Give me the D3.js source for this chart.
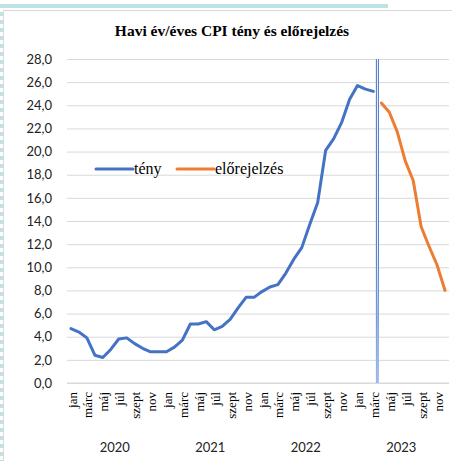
<!DOCTYPE html>
<html>
<head>
<meta charset="utf-8">
<script src="https://cdn.jsdelivr.net/npm/d3@7"></script>
<style>
  body { margin: 0; background: #fff; }
  svg { display: block; }
</style>
</head>
<body>
<svg></svg>
<script>
// Chart dimensions and margins.
const width = 452;
const height = 461;
const marginTop = 59;
const marginRight = 3;
const marginBottom = 78;
const marginLeft = 67;

// Data: Hungarian monthly y/y CPI, actual and forecast.
const years = [2020, 2021, 2022, 2023];
const monthNames = ["jan", "febr", "márc", "ápr", "máj", "jún", "júl", "aug", "szept", "okt", "nov", "dec"];
const actual = [
  4.7, 4.4, 3.9, 2.4, 2.2, 2.9, 3.8, 3.9, 3.4, 3.0, 2.7, 2.7,
  2.7, 3.1, 3.7, 5.1, 5.1, 5.3, 4.6, 4.9, 5.5, 6.5, 7.4, 7.4,
  7.9, 8.3, 8.5, 9.5, 10.7, 11.7, 13.7, 15.6, 20.1, 21.1, 22.5, 24.5,
  25.7, 25.4, 25.2
];
const forecast = [24.2, 23.4, 21.7, 19.2, 17.5, 13.5, 11.8, 10.2, 8.0];
const yTicks = [0, 2, 4, 6, 8, 10, 12, 14, 16, 18, 20, 22, 24, 26, 28];
const dividerMonth = "2023-03";

// Build category keys and series points.
const months = years.flatMap(y => monthNames.map((m, i) => ({key: `${y}-${String(i + 1).padStart(2, "0")}`, year: y, idx: i, name: m})));
const actualPts = actual.map((v, i) => ({key: months[i].key, v}));
const forecastPts = forecast.map((v, i) => ({key: months[actual.length + i].key, v}));

const svg = d3.select("svg")
    .attr("width", width)
    .attr("height", height)
    .attr("viewBox", [0, 0, width, height]);

// Decorative frame (light blue dashed border + gray chart frame).
svg.append("rect").attr("x", 0).attr("y", 4).attr("width", 388).attr("height", 4).attr("fill", "#bfe2e3");
svg.append("line").attr("x1", 3).attr("x2", width).attr("y1", 10.5).attr("y2", 10.5)
    .attr("stroke", "#d9d9d9").attr("stroke-width", 1);
svg.append("line").attr("x1", 0).attr("x2", 0).attr("y1", 12).attr("y2", height)
    .attr("stroke", "#bfe2e3").attr("stroke-width", 6).attr("stroke-dasharray", "4 4");
svg.append("line").attr("x1", 3.5).attr("x2", 3.5).attr("y1", 10).attr("y2", height)
    .attr("stroke", "#d9d9d9").attr("stroke-width", 1);

// Scales.
const x = d3.scaleBand(months.map(d => d.key), [marginLeft, width - marginRight]);
const cx = k => x(k) + x.bandwidth() / 2;
const y = d3.scaleLinear([0, 28], [height - marginBottom, marginTop]);

// Title.
svg.append("text")
    .attr("x", 232).attr("y", 36)
    .attr("text-anchor", "middle")
    .attr("font-family", "'Liberation Serif', 'Times New Roman', serif")
    .attr("font-weight", "bold")
    .attr("font-size", 15.5)
    .attr("fill", "#000")
    .text("Havi év/éves CPI tény és előrejelzés");

// Y axis with grid lines.
svg.append("g")
    .attr("transform", `translate(${marginLeft},0)`)
    .call(d3.axisLeft(y).tickValues(yTicks).tickSize(0).tickPadding(15)
        .tickFormat(d => d.toFixed(1).replace(".", ",")))
    .call(g => g.select(".domain").remove())
    .call(g => g.selectAll(".tick text")
        .attr("font-family", "Lato, 'Open Sans', sans-serif")
        .attr("font-size", 13)
        .attr("fill", "#222"))
    .call(g => g.selectAll(".tick line").clone()
        .attr("x2", width - marginLeft - marginRight)
        .attr("stroke", "#d9d9d9"));

// X axis: month labels (every other) and year group labels.
const xAxis = svg.append("g").attr("transform", `translate(0,${y(0)})`);
xAxis.append("line")
    .attr("x1", marginLeft).attr("x2", width - marginRight)
    .attr("stroke", "#d9d9d9");
xAxis.selectAll("text.month")
    .data(months.filter(d => d.idx % 2 === 0))
    .join("text")
    .attr("class", "month")
    .attr("transform", d => `translate(${cx(d.key) + 1},9) rotate(-90)`)
    .attr("text-anchor", "end")
    .attr("dy", "0.35em")
    .attr("font-family", "'Liberation Serif', 'Times New Roman', serif")
    .attr("font-size", 13)
    .attr("fill", "#000")
    .text(d => d.name);
xAxis.selectAll("text.year")
    .data(years)
    .join("text")
    .attr("class", "year")
    .attr("x", yr => (x(`${yr}-01`) + x(`${yr}-12`) + x.bandwidth()) / 2)
    .attr("y", 69)
    .attr("text-anchor", "middle")
    .attr("font-family", "Lato, 'Open Sans', sans-serif")
    .attr("font-size", 13)
    .attr("fill", "#222")
    .text(yr => yr);

// Divider between actual data and forecast.
const dx = x(dividerMonth) + x.bandwidth();
const defs = svg.append("defs");
const grad = defs.append("linearGradient")
    .attr("id", "divGrad")
    .attr("gradientUnits", "userSpaceOnUse")
    .attr("x1", 0).attr("x2", 0).attr("y1", y(28)).attr("y2", y(0));
grad.append("stop").attr("offset", "0.6").attr("stop-color", "#4472c4");
grad.append("stop").attr("offset", "1").attr("stop-color", "#9dbbec");
const gradMid = defs.append("linearGradient")
    .attr("id", "divGradMid")
    .attr("gradientUnits", "userSpaceOnUse")
    .attr("x1", 0).attr("x2", 0).attr("y1", y(28)).attr("y2", y(0));
gradMid.append("stop").attr("offset", "0.6").attr("stop-color", "#ffffff");
gradMid.append("stop").attr("offset", "0.8").attr("stop-color", "#9dbbec");
svg.append("rect")
    .attr("x", dx - 1.5).attr("y", y(28)).attr("width", 3).attr("height", y(0) - y(28))
    .attr("fill", "url(#divGrad)");
svg.append("rect")
    .attr("x", dx - 0.5).attr("y", y(28)).attr("width", 1).attr("height", y(0) - y(28))
    .attr("fill", "url(#divGradMid)");

// Lines.
const line = d3.line()
    .x(d => cx(d.key))
    .y(d => y(d.v));

svg.append("path")
    .datum(actualPts)
    .attr("fill", "none")
    .attr("stroke", "#4472c4")
    .attr("stroke-width", 3)
    .attr("stroke-linejoin", "round")
    .attr("stroke-linecap", "round")
    .attr("d", line);

svg.append("path")
    .datum(forecastPts)
    .attr("fill", "none")
    .attr("stroke", "#ed7d31")
    .attr("stroke-width", 3)
    .attr("stroke-linejoin", "round")
    .attr("stroke-linecap", "round")
    .attr("d", line);

// Legend.
const legend = [
  {label: "tény", color: "#4472c4", x: 96},
  {label: "előrejelzés", color: "#ed7d31", x: 177}
];
const lg = svg.append("g").selectAll("g").data(legend).join("g")
    .attr("transform", d => `translate(${d.x},169)`);
lg.append("line").attr("x1", 0).attr("x2", 37)
    .attr("stroke", d => d.color).attr("stroke-width", 3).attr("stroke-linecap", "round");
lg.append("text")
    .attr("x", 38).attr("y", 5)
    .attr("font-family", "'Liberation Serif', 'Times New Roman', serif")
    .attr("font-size", 16)
    .attr("fill", "#000")
    .text(d => d.label);
</script>
</body>
</html>
